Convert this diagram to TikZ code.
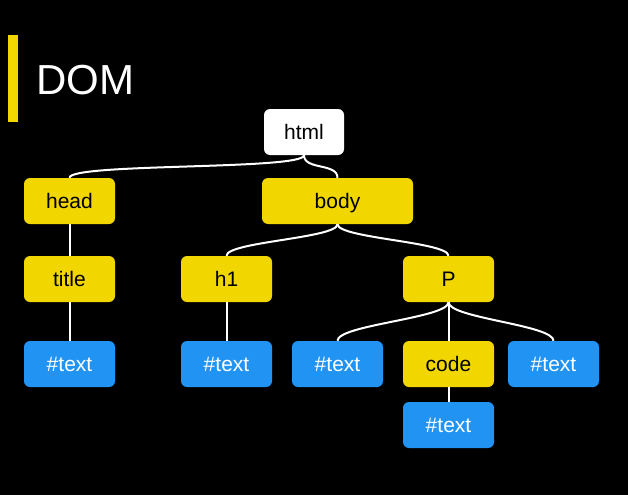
\documentclass[tikz,border=0pt]{standalone}
\usepackage{fontspec}
\setmainfont{Liberation Sans}
\definecolor{amarillo}{HTML}{F2D600}
\definecolor{azul}{HTML}{2193F2}

\begin{document}
\begin{tikzpicture}[x=1pt, y=-1pt,
    caja/.style={rounded corners=6pt, minimum width=91pt, minimum height=46pt, inner sep=0pt,
        text height=16pt, text depth=2pt, font=\fontsize{21}{24}\selectfont},
    amarilla/.style={caja, fill=amarillo, text=black},
    azul/.style={caja, fill=azul, text=white},
    enlace/.style={white, line width=2pt}]
            % Fondo
            \fill[black] (0,0) rectangle (628,495);

            % Titulo
            \fill[amarillo] (8,35) rectangle (18,122);
            \node[anchor=base west, inner sep=0pt, text=white, font=\fontsize{42}{48}\selectfont] (titulo) at (36,94) {DOM};

            % Nodos
            \node[caja, fill=white, minimum width=80pt] (html) at (304,132) {html};
            \node[amarilla] (head) at (69.5,201) {head};
            \node[amarilla, minimum width=151pt] (body) at (337.5,201) {body};
            \node[amarilla] (title) at (69.5,279) {title};
            \node[amarilla] (h1) at (226.5,279) {h1};
            \node[amarilla] (p) at (448.5,279) {P};
            \node[azul] (texthead) at (69.5,364) {\#text};
            \node[azul] (texth) at (226.5,364) {\#text};
            \node[azul] (textpa) at (337.5,364) {\#text};
            \node[amarilla] (code) at (448.5,364) {code};
            \node[azul] (textpb) at (553.5,364) {\#text};
            \node[azul] (textcode) at (448.5,425) {\#text};

            % Enlaces curvos
            \draw[enlace] (html.south) .. controls +(0,15) and +(0,-15) .. (head.north);
            \draw[enlace] (html.south) .. controls +(0,15) and +(0,-15) .. (body.north);
            \draw[enlace] (body.south) .. controls +(0,14) and +(0,-14) .. (h1.north);
            \draw[enlace] (body.south) .. controls +(0,14) and +(0,-14) .. (p.north);
            \draw[enlace] (p.south) .. controls +(0,16) and +(0,-16) .. (textpa.north);
            \draw[enlace] (p.south) .. controls +(0,16) and +(0,-16) .. (textpb.north);

            % Enlaces rectos
            \draw[enlace] (head) -- (title);
            \draw[enlace] (title) -- (texthead);
            \draw[enlace] (h1) -- (texth);
            \draw[enlace] (p) -- (code);
            \draw[enlace] (code) -- (textcode);
        \end{tikzpicture}
\end{document}
